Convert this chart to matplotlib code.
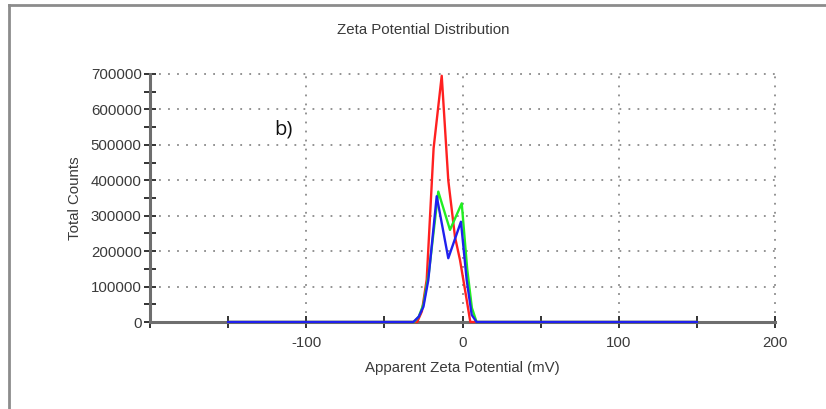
import matplotlib
matplotlib.use("Agg")
import matplotlib.pyplot as plt
from matplotlib.lines import Line2D
from matplotlib.ticker import MultipleLocator, FixedLocator

plt.rcParams['font.family'] = ['Liberation Sans', 'DejaVu Sans']

# Data
red_x = [-150, -29, -26, -22.9, -18.5, -13.3, -9.1, -4.8, -1.6, 2.7, 5, 150]
red_y = [0, 0, 30000, 120000, 490000, 695000, 400000, 240000, 175000, 62000, 0, 0]

green_x = [-150, -31, -28, -25, -21.5, -15.5, -8, -0.5, 3, 6, 9, 150]
green_y = [0, 0, 15000, 50000, 140000, 368000, 260000, 335000, 150000, 40000, 0, 0]

blue_x = [-150, -31.5, -28, -25, -21.9, -16.5, -9.1, -1, 2.7, 5.9, 9, 150]
blue_y = [0, 0, 15000, 43000, 118000, 355000, 180000, 283000, 118000, 20000, 0, 0]

x_major = [-100, 0, 100, 200]
x_minor = [-200, -150, -50, 50, 150]
y_labels_at = [0, 100000, 200000, 300000, 400000, 500000, 600000, 700000]

W, H = 826, 409
FS = 10.8
TXT = '#3a3a3a'
fig = plt.figure(figsize=(W / 100, H / 100), dpi=100)
ax = fig.add_axes([150 / W, 1 - 322 / H, (775 - 150) / W, (322 - 74) / H])

ax.set_xlim(-200, 200)
ax.set_ylim(0, 700000)

# grid
for gx in x_major:
    ax.plot([gx, gx], [0, 700000], color='#8a8a8a', lw=1.3, ls=(0, (1, 4)), zorder=1, clip_on=False)
for gy in y_labels_at[1:]:
    ax.plot([-200, 200], [gy, gy], color='#8a8a8a', lw=1.3, ls=(0, (1, 4)), zorder=1, clip_on=False)

for s in ['top', 'right']:
    ax.spines[s].set_visible(False)
for s in ['left', 'bottom']:
    ax.spines[s].set_color('#6e6e6e')
    ax.spines[s].set_linewidth(2.2)
    ax.spines[s].set_zorder(2)

ax.plot(red_x, red_y, color='#ff2020', lw=1.7, zorder=3, clip_on=False)
ax.plot(green_x, green_y, color='#22ee22', lw=1.7, zorder=4, clip_on=False)
ax.plot(blue_x, blue_y, color='#2020ee', lw=1.7, zorder=5, clip_on=False)

ax.xaxis.set_major_locator(FixedLocator(x_major))
ax.xaxis.set_minor_locator(FixedLocator(x_minor))
ax.yaxis.set_major_locator(FixedLocator(y_labels_at))
ax.yaxis.set_minor_locator(MultipleLocator(50000))
ax.set_yticklabels([str(v) for v in y_labels_at])
ax.set_xticklabels([str(v) for v in x_major])

ax.tick_params(axis='both', which='both', direction='inout', length=8, width=1.4,
               color='#333333', labelsize=FS, labelcolor=TXT)
ax.tick_params(axis='x', pad=6)
ax.tick_params(axis='y', pad=2)

fig.text(462 / W, 1 - 368 / H, 'Apparent Zeta Potential (mV)', ha='center', va='center',
         fontsize=FS, color=TXT)
fig.text(75 / W, 1 - 198 / H, 'Total Counts', ha='center', va='center', rotation=90,
         fontsize=FS, color=TXT)
fig.text(423 / W, 1 - 30 / H, 'Zeta Potential Distribution', ha='center', va='center',
         fontsize=FS, color=TXT)
fig.text(274 / W, 1 - 130 / H, 'b)', ha='left', va='center', fontsize=14.5,
         family=['Open Sans', 'DejaVu Sans'], color='#111111')

# outer frame
fig.add_artist(Line2D([9 / W, 9 / W], [0, 1 - 5 / H], transform=fig.transFigure,
                      color='#8c8c8c', lw=2))
fig.add_artist(Line2D([9 / W, 1], [1 - 5 / H, 1 - 5 / H], transform=fig.transFigure,
                      color='#8c8c8c', lw=2))

fig.savefig('out.png', dpi=100)
